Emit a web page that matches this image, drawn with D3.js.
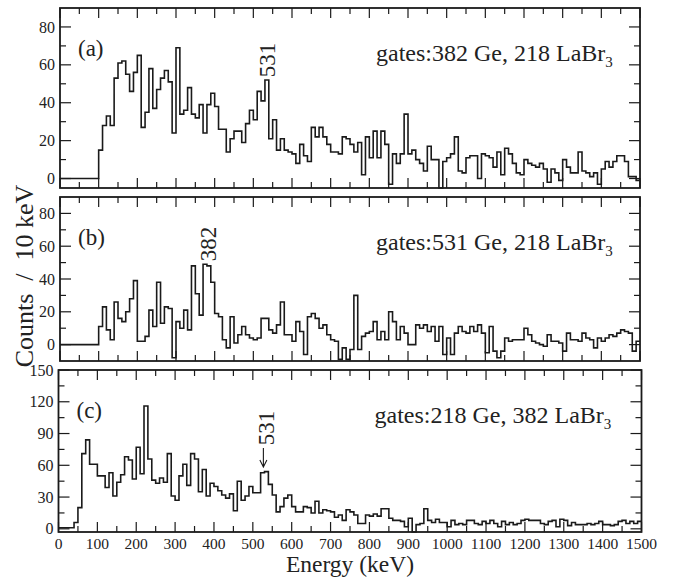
<!DOCTYPE html>
<html>
<head>
<meta charset="utf-8">
<script src="https://cdn.jsdelivr.net/npm/d3@7"></script>
<style>
  body { margin: 0; background: #fff; }
  svg { display: block; }
</style>
</head>
<body>
<script>
// counts per 10 keV bin, 0..1500 keV (150 bins)
var countsA = [0,0,0,0,0,0,0,0,0,0,
  15,28,33,28,53,61,62,55,46,56,
  65,27,35,58,37,47,53,57,51,24,
  69,34,36,48,34,32,39,24,39,45,
  38,26,26,14,21,25,25,19,29,36,
  31,46,41,52,21,31,15,21,15,14,
  13,8,18,12,9,27,22,27,22,18,
  14,14,13,22,21,18,14,19,2,22,
  11,25,11,25,18,-3,13,8,13,34,
  13,15,10,8,4,17,10,10,-5,9,
  11,13,22,4,3,11,12,12,0,13,
  12,11,6,14,2,16,13,8,3,2,
  10,8,7,6,8,5,-2,5,3,-1,
  10,6,3,3,14,4,3,1,3,-3,
  5,9,6,9,12,12,9,1,1,-1];

var countsB = [0,0,0,0,0,0,0,0,0,0,
  11,23,9,3,26,16,14,20,28,39,
  2,2,5,21,11,38,13,23,22,-8,
  14,10,21,9,48,31,18,49,48,38,
  19,17,3,-2,17,1,6,11,6,4,
  3,4,16,16,9,7,12,26,6,6,
  2,14,8,-6,17,19,16,10,12,6,
  3,2,-9,-2,-9,-3,30,-3,5,7,
  8,14,3,8,3,20,14,3,11,7,
  0,0,12,10,12,8,11,2,11,-6,
  4,-6,7,11,8,7,11,8,12,7,
  -5,11,-4,-8,-4,4,2,3,3,3,
  10,6,2,1,0,-1,6,2,2,1,
  -4,7,3,3,2,7,4,3,-2,4,
  2,4,6,5,7,9,8,7,-4,2];

var countsC = [1,1,1,1,6,20,71,84,61,61,
  50,50,39,53,31,44,51,68,65,47,
  77,52,116,66,46,43,48,44,71,31,
  27,50,61,41,71,66,35,56,31,43,
  40,36,32,29,33,17,45,27,31,40,
  34,34,53,54,42,32,16,21,29,32,
  21,16,16,21,20,15,26,15,18,17,
  16,11,13,8,18,16,13,5,5,13,
  12,14,12,19,19,10,8,8,7,2,
  10,-3,4,5,19,8,6,9,6,6,
  2,8,4,5,4,8,8,5,4,7,
  5,8,5,2,7,4,6,4,5,8,
  9,8,8,8,5,4,7,8,2,9,
  8,3,6,4,4,4,5,4,5,7,
  4,4,3,4,7,8,5,7,5,7];

var binWidth = 10;
var energyMajor = d3.range(0, 1501, 100);
var energyMinor = d3.range(50, 1500, 100);
var panelLabels = ["(a)", "(b)", "(c)"];
var gateTexts = ["gates:382 Ge, 218 LaBr", "gates:531 Ge, 218 LaBr", "gates:218 Ge, 382 LaBr"];
var peakLabels = [531, 382, 531];

var width = 674, height = 577;
var serif = "'Liberation Serif', 'DejaVu Serif', serif";
var svg = d3.select("body").append("svg")
  .attr("width", width)
  .attr("height", height)
  .attr("font-family", serif)
  .style("font-family", serif);

var panels = [
  {counts: countsA, top: 8, bottom: 188, left: 60, right: 640, yDomain: [-5, 90],
   yMajor: d3.range(0, 81, 20), yMinor: d3.range(10, 80, 20), peakDy: 52, arrow: false},
  {counts: countsB, top: 197, bottom: 361, left: 60, right: 640, yDomain: [-10, 90],
   yMajor: d3.range(0, 81, 20), yMinor: d3.range(10, 80, 20), peakDy: 47, arrow: false},
  {counts: countsC, top: 370, bottom: 532, left: 58.5, right: 641.5, yDomain: [-3, 150],
   yMajor: d3.range(0, 151, 30), yMinor: d3.range(15, 150, 30), peakDy: 58, arrow: true}
];

panels.forEach(function(p, k) {
  var x = d3.scaleLinear().domain([0, 1500]).range([p.left, p.right]);
  var y = d3.scaleLinear().domain(p.yDomain).range([p.bottom, p.top]);
  var g = svg.append("g");

  // histogram as steps
  var pts = p.counts.map(function(v, i) { return [i * binWidth, v]; });
  pts.push([p.counts.length * binWidth, p.counts[p.counts.length - 1]]);
  var line = d3.line()
    .x(function(d) { return x(d[0]); })
    .y(function(d) { return y(d[1]); })
    .curve(d3.curveStepAfter);
  g.append("path")
    .attr("d", line(pts))
    .attr("fill", "none")
    .attr("stroke", "#1a1a1a")
    .attr("stroke-width", 1.6);

  // ticks, all inward, on four sides
  var ticks = g.append("g").attr("stroke", "#1a1a1a").attr("stroke-width", 1.2);
  function xTick(e, len) {
    ticks.append("line").attr("x1", x(e)).attr("x2", x(e)).attr("y1", p.bottom).attr("y2", p.bottom - len);
    ticks.append("line").attr("x1", x(e)).attr("x2", x(e)).attr("y1", p.top).attr("y2", p.top + len);
  }
  function yTick(v, len) {
    ticks.append("line").attr("x1", p.left).attr("x2", p.left + len).attr("y1", y(v)).attr("y2", y(v));
    ticks.append("line").attr("x1", p.right).attr("x2", p.right - len).attr("y1", y(v)).attr("y2", y(v));
  }
  energyMajor.forEach(function(e) { xTick(e, 10); });
  energyMinor.forEach(function(e) { xTick(e, 6); });
  p.yMajor.forEach(function(v) { yTick(v, 11); });
  p.yMinor.forEach(function(v) { yTick(v, 6); });

  // frame
  g.append("rect")
    .attr("x", p.left).attr("y", p.top)
    .attr("width", p.right - p.left).attr("height", p.bottom - p.top)
    .attr("fill", "none").attr("stroke", "#1a1a1a").attr("stroke-width", 1.8);

  // y tick labels
  g.selectAll(".ylab").data(p.yMajor).enter().append("text")
    .attr("x", p.left - 5)
    .attr("y", function(d) { return y(d); })
    .attr("dy", "0.35em")
    .attr("text-anchor", "end")
    .attr("font-size", 16)
    .attr("fill", "#222")
    .text(function(d) { return d; });

  g.append("text")
    .attr("x", p.left + 18).attr("y", p.top + 48)
    .attr("font-size", 23)
    .attr("fill", "#222")
    .text(panelLabels[k]);

  var gt = g.append("text")
    .attr("x", p.left + 316).attr("y", p.top + 53)
    .attr("font-size", 24)
    .attr("fill", "#222")
    .text(gateTexts[k]);
  gt.append("tspan").attr("dy", 6).attr("font-size", 15).text("3");

  var px = x(peakLabels[k]) + (k === 1 ? 0 : 1.5);
  var py = p.top + p.peakDy;
  g.append("text")
    .attr("transform", "translate(" + px + "," + py + ") rotate(-90)")
    .attr("text-anchor", "middle")
    .attr("dy", "0.34em")
    .attr("font-size", 23)
    .attr("fill", "#222")
    .text(peakLabels[k]);

  if (p.arrow) {
    var ax = px - 3, a0 = py + 20, a1 = py + 39;
    g.append("path")
      .attr("d", "M" + ax + "," + a0 + "L" + ax + "," + a1 +
        "M" + (ax - 3.5) + "," + (a1 - 7) + "L" + ax + "," + a1 + "L" + (ax + 3.5) + "," + (a1 - 7))
      .attr("fill", "none").attr("stroke", "#1a1a1a").attr("stroke-width", 1.1);
  }

  if (k === panels.length - 1) {
    g.selectAll(".xlab").data(energyMajor).enter().append("text")
      .attr("x", function(d) { return x(d); })
      .attr("y", p.bottom + 17)
      .attr("text-anchor", "middle")
      .attr("font-size", 15.5)
      .attr("fill", "#222")
      .text(function(d) { return d; });
    g.append("text")
      .attr("x", (p.left + p.right) / 2).attr("y", p.bottom + 40)
      .attr("text-anchor", "middle")
      .attr("font-size", 23.5)
      .attr("fill", "#222")
      .text("Energy (keV)");
  }
});

svg.append("text")
  .attr("transform", "translate(33,276) rotate(-90)")
  .attr("text-anchor", "middle")
  .attr("font-size", 26)
  .attr("fill", "#222")
  .style("white-space", "pre")
  .text("Counts  /  10 keV");
</script>
</body>
</html>
